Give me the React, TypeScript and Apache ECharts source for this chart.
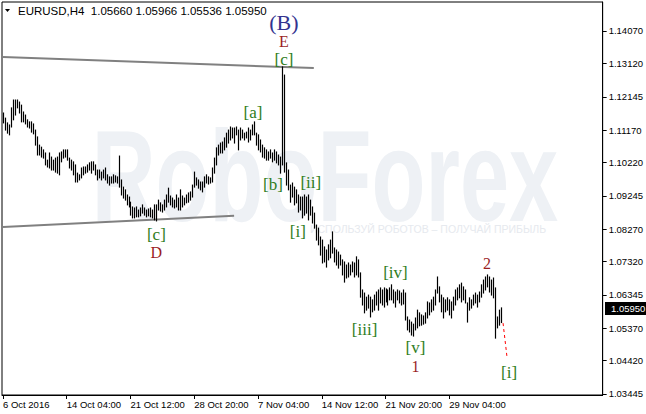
import React, { useEffect, useRef } from "react";
import * as echarts from "echarts";

const symbolTitle = "EURUSD,H4";
const quote = ["1.05660", "1.05966", "1.05536", "1.05950"];
const lastPrice = 1.0595;
const watermark = "RoboForex";
const watermarkTagline = "ИСПОЛЬЗУЙ РОБОТОВ – ПОЛУЧАЙ ПРИБЫЛЬ";

const xTickIndex = [0, 32, 64, 96, 128, 160, 192, 224];
const xTickLabels = ["6 Oct 2016", "14 Oct 04:00", "21 Oct 12:00", "28 Oct 20:00", "7 Nov 04:00", "14 Nov 12:00", "21 Nov 20:00", "29 Nov 04:00"];
const yTickLabels = ["1.14070", "1.13120", "1.12145", "1.11170", "1.10220", "1.09245", "1.08270", "1.07320", "1.06345", "1.05370", "1.04420", "1.03445"];

// H4 bars (high / low), one per 4 hours
const highs = [
  1.1167, 1.1152, 1.1138, 1.1132, 1.1182, 1.1205, 1.1205, 1.1205, 1.1199, 1.1190,
  1.1170, 1.1161, 1.1147, 1.1141, 1.1141, 1.1135, 1.1117, 1.1097, 1.1073, 1.1067,
  1.1059, 1.1050, 1.1029, 1.1050, 1.1038, 1.1029, 1.1035, 1.1038, 1.1050, 1.1053,
  1.1059, 1.1059, 1.1059, 1.1035, 1.1029, 1.1024, 1.1015, 1.0991, 1.0986, 1.1006,
  1.1009, 1.1009, 1.1015, 1.1021, 1.1024, 1.1024, 1.1015, 1.1000, 1.1000, 1.0994,
  1.1000, 1.1006, 1.0986, 1.0980, 1.0980, 1.0986, 1.0983, 1.0980, 1.1041, 1.0971,
  1.0950, 1.0942, 1.0927, 1.0921, 1.0906, 1.0892, 1.0889, 1.0892, 1.0883, 1.0889,
  1.0898, 1.0889, 1.0883, 1.0886, 1.0889, 1.0883, 1.0898, 1.0898, 1.0912, 1.0904,
  1.0898, 1.0912, 1.0927, 1.0947, 1.0924, 1.0918, 1.0912, 1.0927, 1.0918, 1.0942,
  1.0924, 1.0918, 1.0927, 1.0933, 1.0936, 1.0956, 1.0994, 1.0977, 1.0971, 1.0965,
  1.0965, 1.0980, 1.0986, 1.0980, 1.0977, 1.1006, 1.1035, 1.1065, 1.1073, 1.1079,
  1.1082, 1.1094, 1.1108, 1.1117, 1.1126, 1.1123, 1.1123, 1.1126, 1.1117, 1.1123,
  1.1117, 1.1108, 1.1111, 1.1123, 1.1117, 1.1132, 1.1141, 1.1108, 1.1103, 1.1088,
  1.1073, 1.1065, 1.1059, 1.1053, 1.1059, 1.1050, 1.1059, 1.1053, 1.1044, 1.1038,
  1.1302, 1.1278, 1.1021, 1.1000, 1.0956, 1.0962, 1.0950, 1.0942, 1.0927, 1.0921,
  1.0921, 1.0927, 1.0921, 1.0927, 1.0912, 1.0892, 1.0874, 1.0839, 1.0830, 1.0804,
  1.0795, 1.0775, 1.0766, 1.0781, 1.0795, 1.0819, 1.0772, 1.0766, 1.0760, 1.0751,
  1.0737, 1.0731, 1.0722, 1.0728, 1.0722, 1.0731, 1.0728, 1.0746, 1.0737, 1.0699,
  1.0649, 1.0640, 1.0628, 1.0634, 1.0628, 1.0620, 1.0634, 1.0643, 1.0649, 1.0655,
  1.0649, 1.0655, 1.0652, 1.0649, 1.0655, 1.0664, 1.0649, 1.0643, 1.0649, 1.0646,
  1.0640, 1.0649, 1.0640, 1.0570, 1.0561, 1.0555, 1.0549, 1.0567, 1.0590, 1.0582,
  1.0576, 1.0573, 1.0582, 1.0614, 1.0611, 1.0620, 1.0628, 1.0649, 1.0687, 1.0658,
  1.0634, 1.0626, 1.0620, 1.0626, 1.0620, 1.0614, 1.0628, 1.0649, 1.0655, 1.0664,
  1.0669, 1.0658, 1.0649, 1.0611, 1.0626, 1.0620, 1.0634, 1.0640, 1.0634, 1.0643,
  1.0664, 1.0678, 1.0687, 1.0693, 1.0687, 1.0678, 1.0684, 1.0655, 1.0570, 1.0590,
  1.05966,
];
const lows = [
  1.1138, 1.1117, 1.1108, 1.1103, 1.1126, 1.1147, 1.1161, 1.1182, 1.1167, 1.1141,
  1.1141, 1.1135, 1.1126, 1.1123, 1.1111, 1.1106, 1.1073, 1.1044, 1.1044, 1.1038,
  1.1035, 1.1015, 1.1009, 1.1006, 1.1000, 1.1000, 1.0994, 1.0991, 1.0986, 1.1024,
  1.1035, 1.1038, 1.1029, 1.1006, 1.1000, 1.0986, 1.0965, 1.0965, 1.0971, 1.0977,
  1.0986, 1.0991, 1.0994, 1.1000, 1.0991, 1.1000, 1.0986, 1.0971, 1.0977, 1.0971,
  1.0977, 1.0971, 1.0962, 1.0956, 1.0962, 1.0962, 1.0965, 1.0962, 1.0950, 1.0927,
  1.0918, 1.0912, 1.0898, 1.0892, 1.0868, 1.0860, 1.0860, 1.0863, 1.0863, 1.0866,
  1.0874, 1.0868, 1.0863, 1.0866, 1.0863, 1.0860, 1.0854, 1.0851, 1.0883, 1.0880,
  1.0877, 1.0883, 1.0892, 1.0906, 1.0898, 1.0892, 1.0889, 1.0892, 1.0883, 1.0883,
  1.0892, 1.0898, 1.0904, 1.0906, 1.0912, 1.0921, 1.0950, 1.0956, 1.0947, 1.0942,
  1.0936, 1.0950, 1.0962, 1.0959, 1.0962, 1.0965, 1.0991, 1.1015, 1.1044, 1.1050,
  1.1050, 1.1059, 1.1067, 1.1079, 1.1088, 1.1094, 1.1079, 1.1103, 1.1059, 1.1088,
  1.1094, 1.1088, 1.1094, 1.1082, 1.1088, 1.1103, 1.1103, 1.1073, 1.1059, 1.1053,
  1.1038, 1.1035, 1.1029, 1.1029, 1.1035, 1.1024, 1.1029, 1.1021, 1.1015, 1.0991,
  1.1015, 1.0994, 1.0956, 1.0942, 1.0906, 1.0921, 1.0898, 1.0904, 1.0877, 1.0883,
  1.0860, 1.0868, 1.0874, 1.0854, 1.0868, 1.0845, 1.0830, 1.0795, 1.0781, 1.0751,
  1.0728, 1.0731, 1.0716, 1.0737, 1.0743, 1.0757, 1.0731, 1.0722, 1.0713, 1.0722,
  1.0693, 1.0672, 1.0684, 1.0687, 1.0693, 1.0702, 1.0687, 1.0693, 1.0687, 1.0628,
  1.0605, 1.0582, 1.0590, 1.0596, 1.0570, 1.0585, 1.0590, 1.0605, 1.0590, 1.0611,
  1.0605, 1.0599, 1.0614, 1.0605, 1.0620, 1.0620, 1.0611, 1.0599, 1.0620, 1.0611,
  1.0605, 1.0608, 1.0561, 1.0532, 1.0526, 1.0517, 1.0514, 1.0532, 1.0538, 1.0544,
  1.0546, 1.0549, 1.0552, 1.0567, 1.0576, 1.0585, 1.0590, 1.0605, 1.0640, 1.0614,
  1.0585, 1.0567, 1.0585, 1.0590, 1.0576, 1.0567, 1.0590, 1.0605, 1.0620, 1.0626,
  1.0614, 1.0620, 1.0611, 1.0555, 1.0590, 1.0596, 1.0605, 1.0611, 1.0599, 1.0614,
  1.0628, 1.0640, 1.0649, 1.0658, 1.0643, 1.0634, 1.0626, 1.0508, 1.0538, 1.0546,
  1.05536,
];

// trend lines and forecast: [bar index, price]
const upperTrend = [[0, 1.13309], [156, 1.12987]];
const lowerTrend = [[0, 1.08333], [116, 1.08664]];
const forecast = [[251, 1.0552], [253, 1.0452]];

// wave labels: text, bar index, price, kind
const waveLabels: [string, number, number, string][] = [
  ["(B)", 141, 1.14333, "major"],
  ["E", 141, 1.1375, "red"],
  ["[c]", 141, 1.13236, "green"],
  ["[a]", 125.5, 1.1167, "green"],
  ["[b]", 135.5, 1.09563, "green"],
  ["[ii]", 154.5, 1.09621, "green"],
  ["[i]", 148, 1.08187, "green"],
  ["[c]", 77, 1.08128, "green"],
  ["D", 77, 1.07601, "red"],
  ["[iv]", 197, 1.06987, "green"],
  ["[iii]", 181.5, 1.05319, "green"],
  ["[v]", 207, 1.04792, "green"],
  ["1", 207, 1.04236, "red"],
  ["2", 243, 1.07279, "red"],
  ["[i]", 254, 1.0406, "green"],
];

const kindColor: Record<string, string> = { major: "#33338f", red: "#9b1f1f", green: "#2f7d22" };
const kindSize: Record<string, number> = { major: 22, red: 16, green: 17 };

export default function App() {
  const ref = useRef<HTMLDivElement>(null);
  useEffect(() => {
    const el = ref.current!;
    const chart = echarts.init(el, null, { renderer: "svg" });
    const font = "Liberation Sans";
    const bars = highs.map((h, i) => [i, lows[i], h]);
    const yVals = yTickLabels.map(Number);
    const yMin = 1.034157;
    const yMax = 1.149188;
    chart.setOption({
      animation: false,
      backgroundColor: "#ffffff",
      grid: { left: 2, top: 2, right: 41, bottom: 19, show: true, borderColor: "#000", borderWidth: 1 },
      xAxis: {
        type: "value",
        min: -0.5,
        max: 301,
        axisLine: { show: true, onZero: false, lineStyle: { color: "#000", width: 1 } },
        axisTick: { show: true, customValues: xTickIndex, length: 4, lineStyle: { color: "#000" } },
        axisLabel: {
          show: true,
          customValues: xTickIndex,
          formatter: (v: number) => xTickLabels[xTickIndex.indexOf(Math.round(v))] ?? "",
          align: "left",
          margin: 4,
          color: "#000",
          fontFamily: font,
          fontSize: 9.5,
        },
        splitLine: { show: false },
      },
      yAxis: {
        type: "value",
        position: "right",
        min: yMin,
        max: yMax,
        axisLine: { show: true, onZero: false, lineStyle: { color: "#000", width: 1 } },
        axisTick: { show: true, customValues: yVals, length: 4, lineStyle: { color: "#000" } },
        axisLabel: {
          show: true,
          customValues: yVals,
          formatter: (v: number) => {
            let best = 0;
            yVals.forEach((t, k) => { if (Math.abs(t - v) < Math.abs(yVals[best] - v)) best = k; });
            return yTickLabels[best];
          },
          margin: 6,
          color: "#000",
          fontFamily: font,
          fontSize: 9.5,
        },
        splitLine: { show: false },
      },
      series: [
        {
          type: "custom",
          data: bars,
          z: 5,
          renderItem: (params: any, api: any) => {
            const i = api.value(0);
            const lo = api.coord([i, api.value(1)]);
            const hi = api.coord([i, api.value(2)]);
            const x = Math.round(lo[0]) + 0.5;
            return {
              type: "line",
              shape: { x1: x, y1: lo[1] + 0.5, x2: x, y2: hi[1] - 0.5 },
              style: { stroke: "#000", lineWidth: 1.2 },
            };
          },
        },
        { type: "line", data: upperTrend, symbol: "none", z: 4, lineStyle: { color: "#808080", width: 2 } },
        { type: "line", data: lowerTrend, symbol: "none", z: 4, lineStyle: { color: "#808080", width: 2 } },
        { type: "line", data: forecast, symbol: "none", z: 4, lineStyle: { color: "#ff0000", width: 1, type: [3, 3] } },
        {
          type: "custom",
          data: waveLabels.map((w) => [w[1], w[2]]),
          z: 6,
          renderItem: (params: any, api: any) => {
            const w = waveLabels[params.dataIndex];
            const p = api.coord([w[1], w[2]]);
            return {
              type: "text",
              x: p[0],
              y: p[1],
              style: {
                text: w[0],
                fill: kindColor[w[3]],
                fontSize: kindSize[w[3]],
                fontFamily: "Liberation Serif",
                align: "center",
                verticalAlign: "middle",
              },
            };
          },
        },
      ],
    });

    const py = chart.convertToPixel({ yAxisIndex: 0 }, lastPrice) as number;
    chart.setOption({
      graphic: [
        {
          type: "text",
          x: 325,
          y: 176,
          z: 0,
          scaleX: 0.68,
          originX: 0,
          originY: 0,
          style: {
            text: watermark,
            fill: "#eef1f5",
            fontSize: 130,
            fontWeight: "bold",
            fontFamily: "Liberation Sans",
            align: "center",
            verticalAlign: "middle",
          },
        },
        {
          type: "text",
          x: 428,
          y: 229,
          z: 0,
          style: {
            text: watermarkTagline,
            fill: "#e6e9ee",
            fontSize: 10.5,
            fontFamily: "Liberation Sans",
            align: "center",
            verticalAlign: "middle",
          },
        },
        {
          type: "polygon",
          z: 100,
          shape: { points: [[5, 9], [10, 9], [7.5, 12]] },
          style: { fill: "#000" },
        },
        {
          type: "text",
          x: 18,
          y: 11,
          z: 100,
          style: {
            text: `${symbolTitle}\u00a0\u00a0${quote.join(" ")}`,
            fill: "#000",
            fontSize: 11.5,
            fontFamily: font,
            verticalAlign: "middle",
          },
        },
        {
          type: "rect",
          z: 100,
          shape: { x: 605, y: Math.round(py) - 6, width: 41, height: 13 },
          style: { fill: "#000" },
        },
        {
          type: "text",
          x: 611,
          y: Math.round(py) + 0.5,
          z: 101,
          style: { text: lastPrice.toFixed(5), fill: "#fff", fontSize: 9.5, fontFamily: font, verticalAlign: "middle" },
        },
      ],
    });
    return () => chart.dispose();
  }, []);
  return <div ref={ref} style={{ position: "absolute", left: 0, top: 0, width: 646, height: 414 }} />;
}
